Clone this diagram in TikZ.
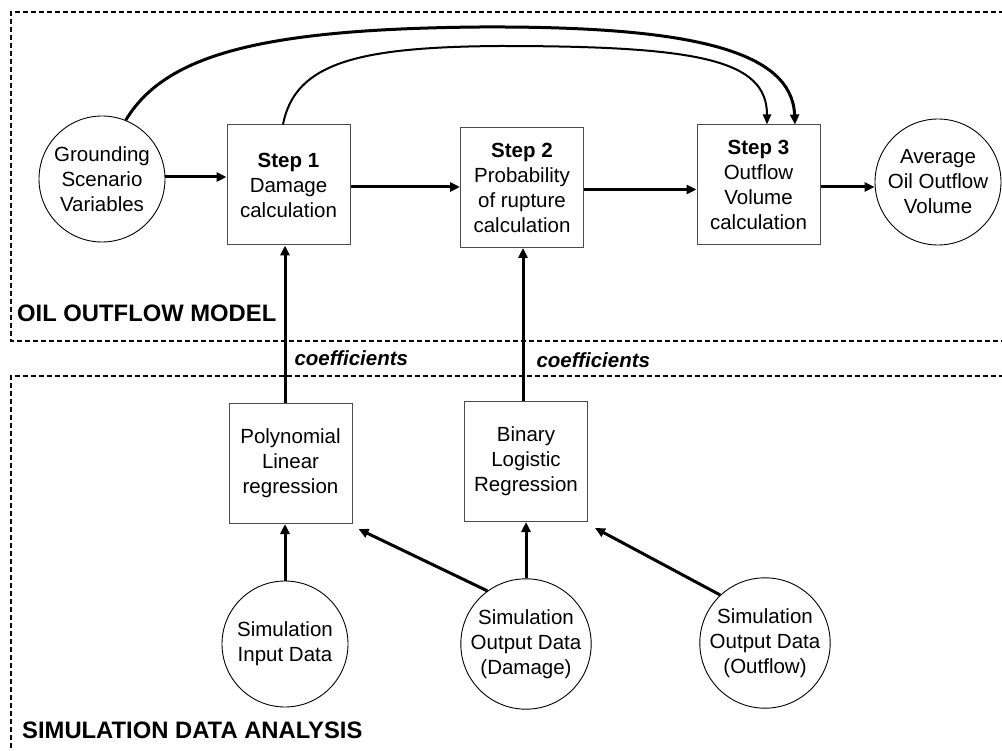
\documentclass[tikz,border=0pt]{standalone}
\usepackage{fontspec}
\setmainfont{Liberation Sans}
\usetikzlibrary{arrows.meta}
\begin{document}
\begin{tikzpicture}[x=1pt,y=-1pt,
  txt/.style={align=center,font=\fontsize{20.5}{25}\selectfont},
  stepbox/.style={txt,draw=black!70,line width=1pt,minimum width=123pt,minimum height=120pt,inner sep=0pt},
  circ/.style={txt,draw=black,line width=0.9pt,circle,minimum size=126pt,inner sep=0pt},
  arr/.style={line width=3pt,-{Triangle[length=10pt,width=9pt]}},
  thinarr/.style={line width=2pt,-{Triangle[length=10pt,width=8pt]}},
  region/.style={draw=black,line width=1.6pt,dash pattern=on 5pt off 3pt},
  lbl/.style={font=\fontsize{23.8}{28}\selectfont\bfseries,anchor=west,inner sep=0pt},
  coef/.style={font=\fontsize{20.5}{25}\selectfont\bfseries\itshape,anchor=west,inner sep=0pt}]
\useasboundingbox (0,0) rectangle (1002,751);
% regions
\draw[region] (1012,12) -- (11,12) -- (11,341) -- (1012,341);
\draw[region] (1012,376) -- (11,376) -- (11,760);
\node[lbl] (lm) at (17,313) {OIL OUTFLOW MODEL};
\node[lbl] (ls) at (22,730) {SIMULATION DATA ANALYSIS};
% top row
\node[circ] (G) at (102,179) {Grounding\\Scenario\\Variables};
\node[stepbox] (s1) at (288.5,185) {\textbf{Step 1}\\Damage\\calculation};
\node[stepbox] (s2) at (522,187.5) {\textbf{Step 2}\\Probability\\of rupture\\calculation};
\node[stepbox] (s3) at (758.5,185) {\textbf{Step 3}\\Outflow\\Volume\\calculation};
\node[circ] (A) at (938,182) {Average\\Oil Outflow\\Volume};
% bottom
\node[stepbox] (pl) at (290.5,463.5) {Polynomial\\Linear\\regression};
\node[stepbox] (bin) at (526,461.5) {Binary\\Logistic\\Regression};
\node[circ] (inp) at (285,644) {Simulation\\Input Data};
\node[circ] (dmg) at (526,644) {Simulation\\Output Data\\(Damage)};
\node[circ] (out) at (765,643) {Simulation\\Output Data\\(Outflow)};
% horizontal arrows
\draw[arr] ([yshift=2pt]G.east) -- ([yshift=2pt]G.east -| s1.west);
\draw[arr] ([yshift=-2pt]s1.east) -- ([yshift=-2pt]s1.east -| s2.west);
\draw[arr] ([yshift=-2pt]s2.east) -- ([yshift=-2pt]s2.east -| s3.west);
\draw[arr] ([yshift=-2pt]s3.east) -- ([yshift=-2pt]s3.east -| A.west);
% curves
\coordinate (c1) at ([xshift=36.5pt]s3.north);
\coordinate (c2) at ([xshift=8.5pt]s3.north);
\draw[arr] (G.68) .. controls (165,55) and (260,29) .. (480,27)
  .. controls (690,26) and (792,50) .. (c1);
\draw[thinarr] ([xshift=-5.5pt]s1.north) .. controls (295,62) and (360,47) .. (500,46)
  .. controls (700,46) and (767,60) .. (c2);
% vertical arrows up
\draw[arr] ([xshift=-5.5pt]pl.north) -- ([xshift=-5.5pt]pl.north |- s1.south)
  node[coef,pos=0.285,xshift=8pt] (k1) {coefficients};
\draw[arr] ([xshift=-3pt]bin.north) -- ([xshift=-3pt]bin.north |- s2.south)
  node[coef,pos=0.27,xshift=12pt] (k2) {coefficients};
\draw[arr] (inp.north) -- (inp.north |- pl.south);
\draw[arr] (dmg.north) -- (dmg.north |- bin.south);
\draw[arr] (dmg.126) -- ([shift={(6,5)}]pl.south east);
\draw[arr] (out.133) -- ([shift={(7,6)}]bin.south east);
\end{tikzpicture}
\end{document}
